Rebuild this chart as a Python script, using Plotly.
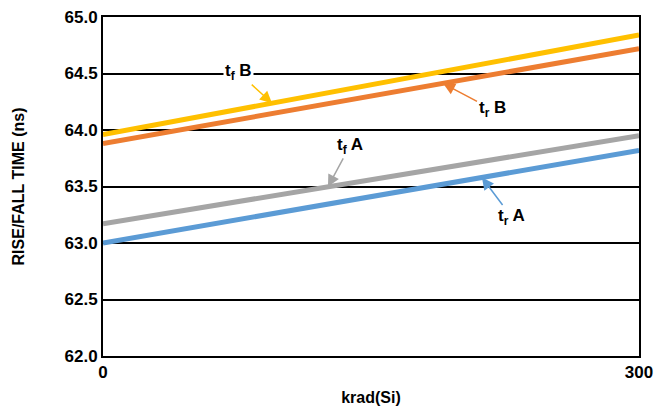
import plotly.graph_objects as go

krad = [0, 300]
tf_B = [63.96, 64.84]
tr_B = [63.88, 64.72]
tf_A = [63.17, 63.95]
tr_A = [63.00, 63.82]

names = ["t<sub>f</sub> B", "t<sub>r</sub> B", "t<sub>f</sub> A", "t<sub>r</sub> A"]
series = [tf_B, tr_B, tf_A, tr_A]
colors = ["#FFC000", "#ED7D31", "#A5A5A5", "#5B9BD5"]
# x (krad) where each arrow points onto its line
arrow_x = [94.6, 190.3, 125.9, 212.1]
# label offsets in pixels from arrow head
offsets = [(-34, -31), (49, 26), (22, -41), (30, 40)]

fig = go.Figure()
for n, s, c in zip(names, series, colors):
    fig.add_trace(go.Scatter(x=krad, y=s, mode="lines", name=n,
                             line=dict(color=c, width=5), cliponaxis=False))

for n, s, c, ax_, (dx, dy) in zip(names, series, colors, arrow_x, offsets):
    yv = s[0] + (s[1] - s[0]) * (ax_ - krad[0]) / (krad[1] - krad[0])
    fig.add_annotation(x=ax_, y=yv, text="<b>" + n + "</b>", showarrow=True,
                       ax=dx, ay=dy, arrowcolor=c, arrowwidth=1.5, arrowhead=2,
                       arrowsize=1.6, bgcolor="white", borderpad=1,
                       font=dict(family="Liberation Sans, Arial", size=17, color="black"))

fig.update_layout(
    width=654, height=409,
    margin=dict(l=103, r=15, t=17, b=53),
    plot_bgcolor="white", paper_bgcolor="white",
    showlegend=False,
    font=dict(family="Liberation Sans, Arial", color="black"),
)
fig.update_xaxes(range=[0, 300], tickvals=[0, 300], showgrid=False, zeroline=False,
                 showline=True, linecolor="black", linewidth=2, mirror=True, automargin=False,
                 ticks="", tickfont=dict(size=17, weight="bold"),
                 title=dict(text="krad(Si)", font=dict(size=16, weight="bold"), standoff=10))
fig.update_yaxes(range=[62.0, 65.0], tickvals=[62.0, 62.5, 63.0, 63.5, 64.0, 64.5, 65.0],
                 tickformat=".1f", showgrid=True, gridcolor="black", gridwidth=2,
                 zeroline=False, showline=True, linecolor="black", linewidth=2, mirror=True,
                 automargin=False,
                 ticks="", tickfont=dict(size=17, weight="bold"),
                 title=dict(text="RISE/FALL TIME (ns)", font=dict(size=16, weight="bold"), standoff=36))

fig.write_html("out.html", config={"displayModeBar": False},
               post_script="document.body.style.margin='0';")
